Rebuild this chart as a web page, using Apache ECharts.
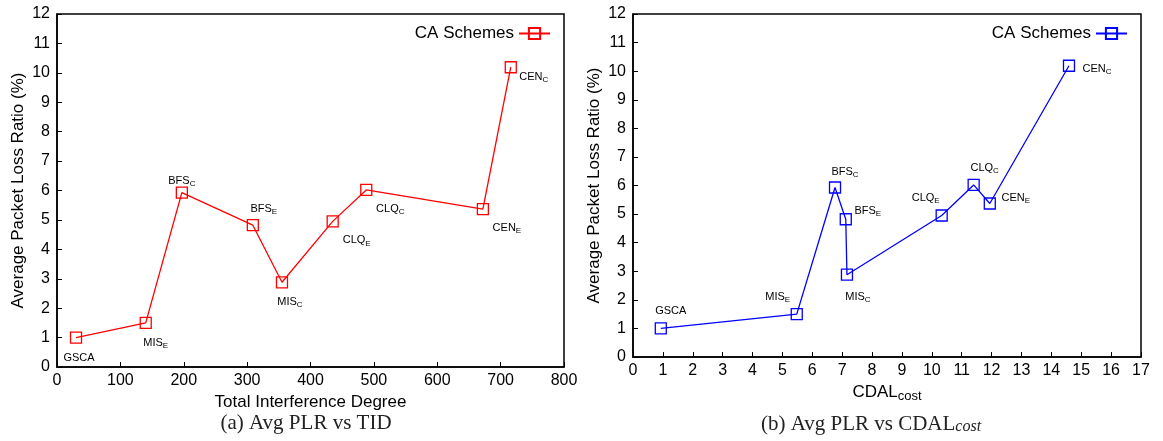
<!DOCTYPE html>
<html>
<head>
<meta charset="utf-8">
<script src="https://cdn.jsdelivr.net/npm/echarts@6/dist/echarts.min.js"></script>
<style>
html,body{margin:0;padding:0;background:#fff;}
#c{width:1163px;height:441px;}
</style>
</head>
<body>
<div id="c"></div>
<script>
// ---- data ----
const schemeBase = ['GSCA', 'MIS', 'BFS', 'BFS', 'MIS', 'CLQ', 'CLQ', 'CEN', 'CEN'];
const schemeSub  = ['',     'E',   'C',   'E',   'C',   'E',   'C',   'E',   'C'];
const tid  = [30, 140, 197, 309, 355, 435, 488, 672, 716];
const cdal = [0.93, 5.48, 6.76, 7.12, 7.16, 10.33, 11.4, 11.94, 14.59];
const plr  = [1.0, 1.5, 5.93, 4.82, 2.88, 4.95, 6.02, 5.37, 10.19];
const yTicks = [0, 12, 1];
const xTicksA = [0, 800, 100];
const xTicksB = [0, 17, 1];

// ---- label placement (styling) ----
const offA = [[3,20],[10,20],[0,-12],[11,-16],[8,20],[24,19],[24,19],[24,19],[23,10]];
const offB = [[10,-17],[-19,-17],[10,-16],[22,-8],[11,22],[-16,-18],[11,-17],[26,-6],[28,3]];

const FONT = '"Liberation Sans", Arial, Helvetica, sans-serif';
const SERIF = '"Liberation Serif", "DejaVu Serif", serif';

function labelText(i) {
  return schemeSub[i] ? schemeBase[i] + '{s|' + schemeSub[i] + '}' : schemeBase[i];
}
function buildData(xs, offs) {
  return xs.map((x, i) => ({
    value: [x, plr[i]],
    label: { offset: offs[i], formatter: labelText(i) }
  }));
}
const labelStyle = {
  show: true, position: 'inside', align: 'center', verticalAlign: 'middle',
  color: '#000', fontFamily: FONT, fontSize: 11,
  rich: { s: { fontSize: 8, fontFamily: FONT, color: '#000', padding: [6, 0, 0, 0] } }
};

function yAxis(gi) {
  return {
    gridIndex: gi, type: 'value', min: yTicks[0], max: yTicks[1], interval: yTicks[2],
    name: 'Average Packet Loss Ratio (%)', nameLocation: 'middle', nameGap: 30,
    nameTextStyle: { fontFamily: FONT, fontSize: 17, color: '#000' },
    axisLine: { show: true, lineStyle: { color: '#000', width: 1.5 } },
    axisTick: { show: true, inside: true, length: 5, lineStyle: { color: '#000' } },
    axisLabel: { fontFamily: FONT, fontSize: 16, color: '#000', margin: 7 },
    splitLine: { show: false }
  };
}
function xAxis(gi, t, name, gap) {
  return {
    gridIndex: gi, type: 'value', min: t[0], max: t[1], interval: t[2],
    name: name, nameLocation: 'middle', nameGap: gap,
    nameTextStyle: { fontFamily: FONT, fontSize: 17, color: '#000',
      rich: { s: { fontFamily: FONT, fontSize: 13, color: '#000', padding: [8, 0, 0, 0] } } },
    axisLine: { show: true, lineStyle: { color: '#000', width: 1.5 } },
    axisTick: { show: true, inside: true, length: 5, lineStyle: { color: '#000' } },
    axisLabel: { fontFamily: FONT, fontSize: 16, color: '#000', margin: 6 },
    splitLine: { show: false }
  };
}
function series(name, xi, data, color) {
  return {
    name: name, type: 'line', xAxisIndex: xi, yAxisIndex: xi, data: data,
    symbol: 'rect', symbolSize: 11,
    lineStyle: { color: color, width: 1.3 },
    itemStyle: { color: 'rgba(0,0,0,0)', borderColor: color, borderWidth: 1.3 },
    label: labelStyle, z: 3
  };
}
function legend(name, right) {
  return {
    data: [name], right: right, top: 20, align: 'right', orient: 'horizontal',
    itemWidth: 31, itemHeight: 14, itemGap: 8,
    formatter: () => 'CA Schemes',
    textStyle: { fontFamily: FONT, fontSize: 17, color: '#000' }
  };
}

const chart = echarts.init(document.getElementById('c'), null, { renderer: 'canvas' });
chart.setOption({
  animation: false,
  backgroundColor: '#fff',
  grid: [
    { left: 57, right: 599, top: 14, bottom: 74, show: true, borderColor: '#000', borderWidth: 1.5, backgroundColor: 'transparent' },
    { left: 633, right: 22, top: 14, bottom: 84, show: true, borderColor: '#000', borderWidth: 1.5, backgroundColor: 'transparent' }
  ],
  legend: [legend('CA Schemes (a)', 607), legend('CA Schemes (b)', 30)],
  xAxis: [xAxis(0, xTicksA, 'Total Interference Degree', 22), xAxis(1, xTicksB, 'CDAL{s|cost}', 18)],
  yAxis: [yAxis(0), yAxis(1)],
  series: [
    series('CA Schemes (a)', 0, buildData(tid, offA), '#ff0000'),
    series('CA Schemes (b)', 1, buildData(cdal, offB), '#0000ff')
  ],
  graphic: [
    { type: 'text', x: 306, y: 413,
      style: { text: '(a) Avg PLR vs TID', font: '21px ' + SERIF, fill: '#222', align: 'center' } },
    { type: 'text', x: 871, y: 413,
      style: { text: '(b) Avg PLR vs CDAL{i|cost}', font: '21px ' + SERIF, fill: '#222', align: 'center',
        rich: { i: { fontStyle: 'italic', fontSize: 16, fontFamily: SERIF, fill: '#222', padding: [6,0,0,0] } } } }
  ]
});
</script>
</body>
</html>
